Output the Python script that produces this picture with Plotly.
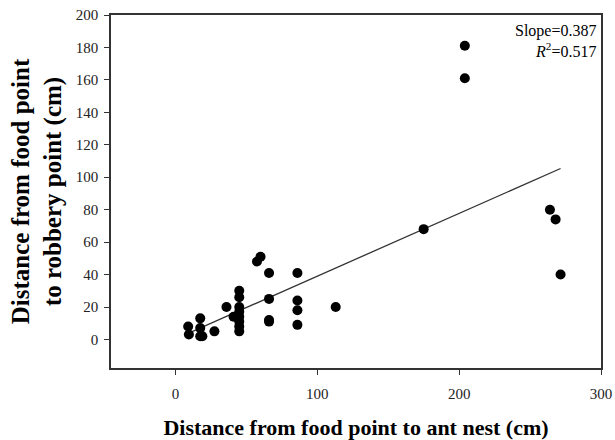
import plotly.graph_objects as go

# Data
nest_dist = [9, 9.5, 17.5, 17.5, 17.5, 19, 27.5, 36, 41,
             45, 45, 45, 45, 45, 45, 45, 45,
             57.5, 60, 66, 66, 66, 66,
             86, 86, 86, 86, 113, 175, 204, 204, 264, 268, 271.5]
robbery_dist = [8, 3, 13, 7, 2, 2, 5, 20, 14,
                30, 26, 20, 17, 14, 11, 8, 5,
                48, 51, 41, 25, 12, 11,
                41, 24, 18, 9, 20, 68, 181, 161, 80, 74, 40]

slope = 0.387
intercept = 0.3
r_squared = 0.517

x_ticks = [0, 100, 200, 300]
y_ticks = [0, 20, 40, 60, 80, 100, 120, 140, 160, 180, 200]

x_fit = [min(nest_dist), max(nest_dist)]
y_fit = [slope * v + intercept for v in x_fit]

FONT = "Liberation Serif, Times New Roman, serif"

fig = go.Figure()
fig.add_trace(go.Scatter(x=x_fit, y=y_fit, mode="lines",
                         line=dict(color="#333333", width=1.3),
                         showlegend=False, hoverinfo="skip"))
fig.add_trace(go.Scatter(x=nest_dist, y=robbery_dist, mode="markers",
                         marker=dict(color="black", size=10, line=dict(width=0)),
                         showlegend=False))

axis_common = dict(showgrid=False, zeroline=False, showline=True, mirror=True,
                   linecolor="#333333", linewidth=1.5, ticks="outside",
                   ticklen=5, tickwidth=1, tickcolor="#333333", automargin=False,
                   ticklabeloverflow="allow",
                   tickfont=dict(family=FONT, size=15, color="#222222"))

fig.update_xaxes(range=[-45.4, 300], tickvals=x_ticks, ticklabelstandoff=6,
                 title=dict(text="<b>Distance from food point to ant nest (cm)</b>",
                            font=dict(family=FONT, size=22, color="black"),
                            standoff=24),
                 **axis_common)
fig.update_yaxes(range=[-17.6, 200], tickvals=y_ticks, ticklabelstandoff=3,
                 title=dict(text="<b>Distance from food point<br>to robbery point (cm)</b>",
                            font=dict(family=FONT, size=25, color="black"),
                            standoff=7),
                 **axis_common)

fig.add_annotation(xref="paper", yref="paper", x=0.993, y=0.985,
                   xanchor="right", yanchor="top", showarrow=False,
                   text=f"Slope={slope}", font=dict(family=FONT, size=16, color="black"))
fig.add_annotation(xref="paper", yref="paper", x=0.993, y=0.935,
                   xanchor="right", yanchor="top", showarrow=False,
                   text=f"<i>R</i><sup>2</sup>={r_squared}", font=dict(family=FONT, size=16, color="black"))

fig.update_layout(width=615, height=440,
                  font=dict(family=FONT, color="black"),
                  margin=dict(l=111, r=14, t=15, b=72),
                  plot_bgcolor="white", paper_bgcolor="white")

# remove the browser's default 8px page margin so the figure fills the window exactly
fig.write_html("out.html", config={"displayModeBar": False},
               post_script="document.body.style.margin='0';document.body.style.overflow='hidden';")
